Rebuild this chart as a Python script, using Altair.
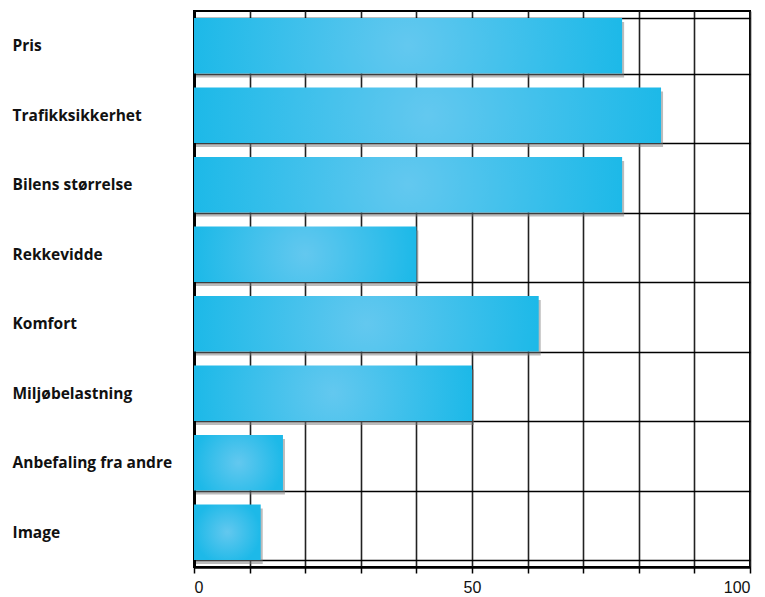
import altair as alt
import pandas as pd

categories = ["Pris", "Trafikksikkerhet", "Bilens størrelse", "Rekkevidde",
              "Komfort", "Miljøbelastning", "Anbefaling fra andre", "Image"]
values = [77, 84, 77, 40, 62, 50, 16, 12]
x_ticks = [0, 10, 20, 30, 40, 50, 60, 70, 80, 90, 100]

df = pd.DataFrame({"kategori": categories, "verdi": values})

y_enc = alt.Y("kategori:N", sort=categories,
              scale=alt.Scale(paddingInner=0.2, paddingOuter=0.1),
              axis=alt.Axis(title=None, tickBand="extent", grid=True, gridColor="#000000",
                            gridWidth=1.5, gridOpacity=1, ticks=False, domain=True,
                            domainColor="#000000", domainWidth=3,
                            labelAlign="left", labelPadding=182,
                            labelFont="Open Sans", labelFontWeight="bold", labelFontSize=15.5,
                            labelColor="#111111"))
x_enc = alt.X("verdi:Q", scale=alt.Scale(domain=[0, 100], nice=False),
              axis=alt.Axis(title=None, values=x_ticks, grid=True, gridColor="#222222",
                            gridWidth=1.6, gridOpacity=1, domainColor="#000000",
                            domainWidth=2.5, tickColor="#000000", tickSize=6, tickWidth=1.5,
                            labelExpr="datum.value % 50 == 0 ? datum.label : ''",
                            labelFont="Liberation Sans", labelFontSize=16,
                            labelColor="#111111", labelPadding=6))

base = alt.Chart(df)

shadow = base.mark_bar(color="#7a7a7a", opacity=0.5, xOffset=2, yOffset=4).encode(
    y=y_enc, x=x_enc)

grad = alt.Gradient(gradient="radial", x1=0.5, y1=0.5, x2=0.5, y2=0.5, r1=0, r2=0.5,
                    stops=[alt.GradientStop(color="#63C8EF", offset=0),
                           alt.GradientStop(color="#1DB9E8", offset=1)])
bars = base.mark_bar(color=grad).encode(y=y_enc, x=x_enc)

chart = alt.layer(shadow, bars).properties(
    width=556, height=556,
    autosize=alt.AutoSizeParams(type="none"),
    padding={"left": 194, "top": 11, "right": 15, "bottom": 30},
).configure_view(stroke="#000000", strokeWidth=2)

chart.save("out.html", embed_options={"renderer": "svg", "actions": False})
